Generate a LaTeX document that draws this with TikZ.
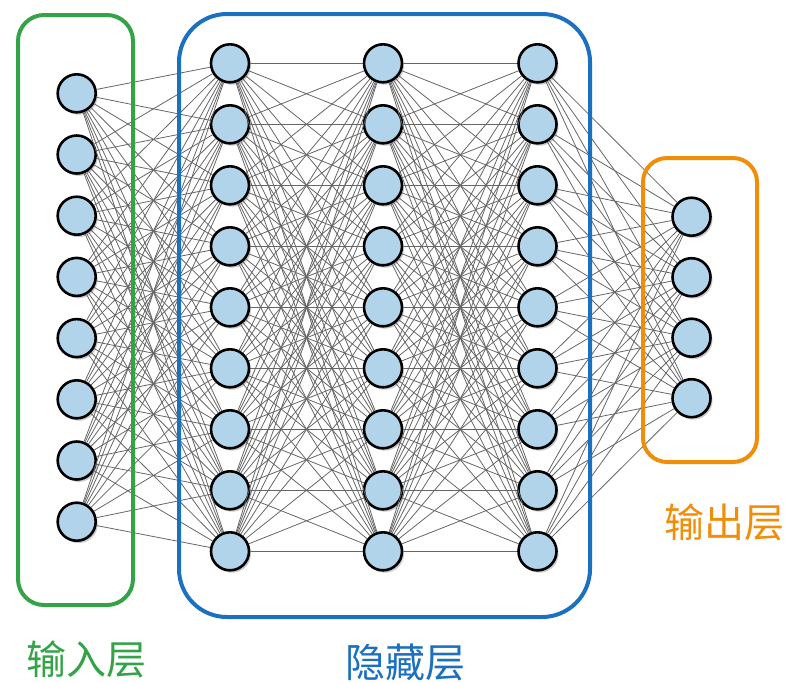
\documentclass[tikz,border=0pt]{standalone}
\usepackage{fontspec}
\newfontfamily\cjk{Noto Sans CJK SC}
\usetikzlibrary{shadows}

\definecolor{neuronblue}{RGB}{178,212,234}
\definecolor{inputgreen}{RGB}{52,163,72}
\definecolor{hiddenblue}{RGB}{28,112,192}
\definecolor{outputorange}{RGB}{240,142,10}

\tikzset{
  neuron/.style={circle, draw=black, line width=1.3pt, fill=neuronblue,
    minimum size=19pt, inner sep=0pt,
    drop shadow={shadow xshift=1pt, shadow yshift=-1.2pt, opacity=0.35, fill=black!60}},
  link/.style={draw=black!60, line width=0.4pt},
  layerbox/.style={line width=2pt},
  layerlabel/.style={font=\cjk\fontsize{20}{24}\selectfont}
}

\begin{document}
\begin{tikzpicture}[x=0.5pt, y=-0.5pt]
  \useasboundingbox (0,0) rectangle (797,682);
  % neurons
  \begin{scope}[every node/.style={neuron}]
    \foreach \i in {1,...,8}
      \node (in\i) at (76.7, {93.3+61.2*(\i-1)}) {};
    \foreach \i in {1,...,9} {
      \node (ha\i) at (230, {63.3+61*(\i-1)}) {};
      \node (hb\i) at (383, {63.3+61*(\i-1)}) {};
      \node (hc\i) at (537.5, {63.3+61*(\i-1)}) {};
    }
    \foreach \i in {1,...,4}
      \node (out\i) at (691.5, {216.7+60.5*(\i-1)}) {};
  \end{scope}
  % connections
  \begin{scope}[on background layer/.try]
    \foreach \i in {1,...,8}
      \foreach \j in {1,...,9}
        \path[link] (in\i) edge (ha\j);
    \foreach \i in {1,...,9}
      \foreach \j in {1,...,9} {
        \path[link] (ha\i) edge (hb\j);
        \path[link] (hb\i) edge (hc\j);
      }
    \foreach \i in {1,...,9}
      \foreach \j in {1,...,4}
        \path[link] (hc\i) edge (out\j);
  \end{scope}
  % layer boxes
  \draw[layerbox, inputgreen, rounded corners=13pt] (18,15) rectangle (133,605);
  \draw[layerbox, hiddenblue, rounded corners=24pt] (179,14) rectangle (590,617);
  \draw[layerbox, outputorange, rounded corners=12pt] (643,158) rectangle (757,462);
  % labels
  \node (inlabel) [layerlabel, text=inputgreen] at (86,659) {输入层};
  \node (hiddenlabel) [layerlabel, text=hiddenblue] at (405,662) {隐藏层};
  \node (outlabel) [layerlabel, text=outputorange] at (724,522) {输出层};
\end{tikzpicture}
\end{document}
